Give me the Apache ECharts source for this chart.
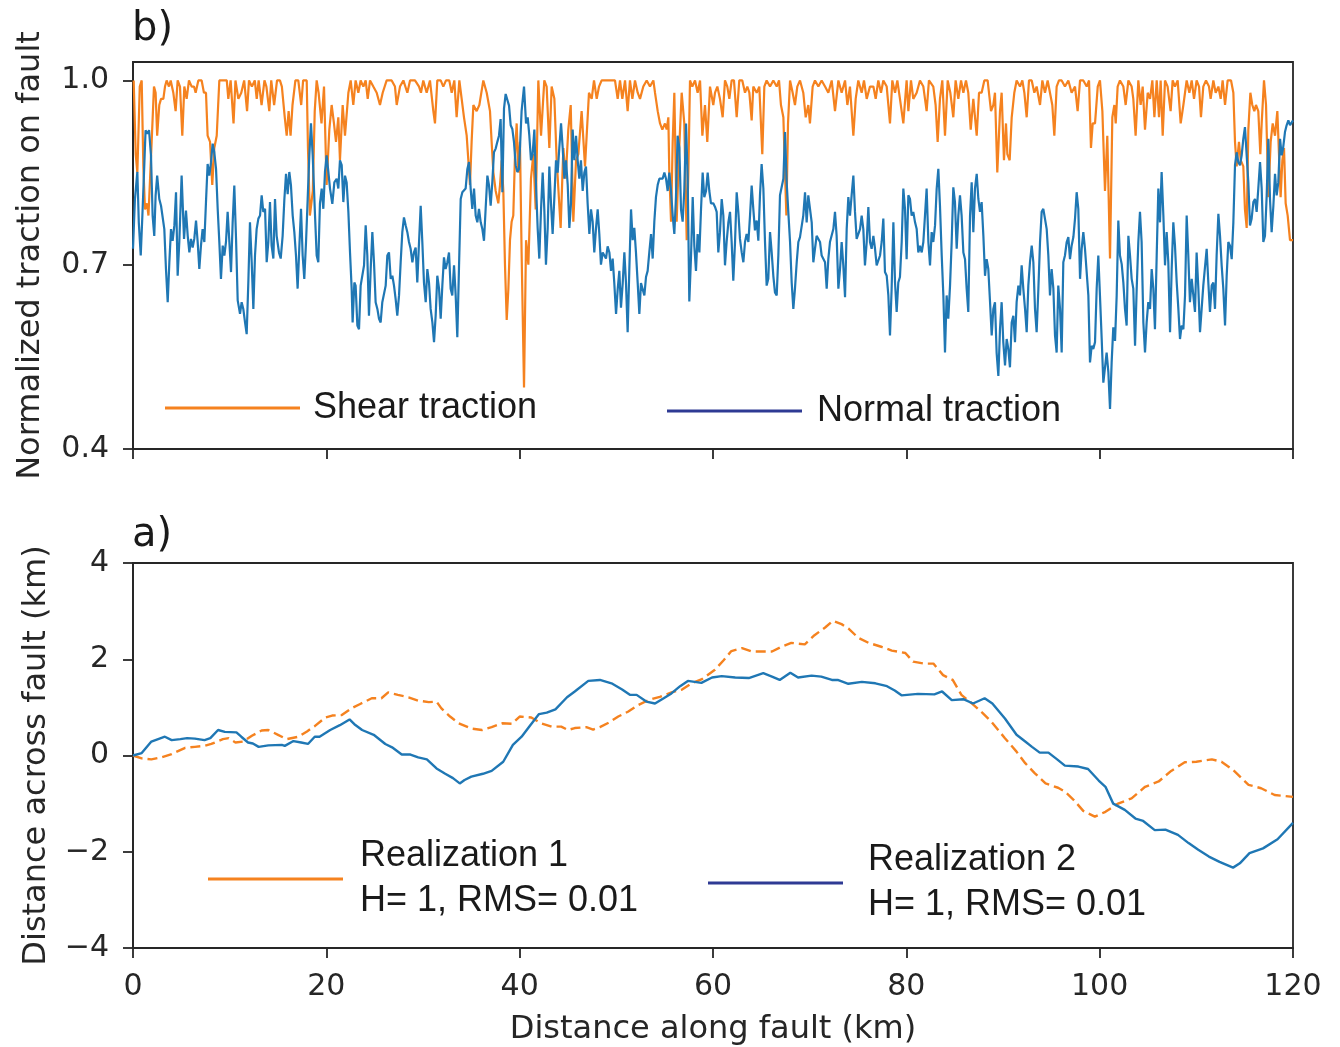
<!DOCTYPE html>
<html>
<head>
<meta charset="utf-8">
<script src="https://cdn.jsdelivr.net/npm/echarts@6/dist/echarts.min.js"></script>
<style>
html,body{margin:0;padding:0;background:#fff;}
#chart{width:1340px;height:1047px;}
</style>
</head>
<body>
<div id="chart"></div>
<script>
// ---------- data (km, value) ----------
const xTicks = [0, 20, 40, 60, 80, 100, 120];
const topYTicks = [0.4, 0.7, 1.0];
const bottomYTicks = [-4, -2, 0, 2, 4];

const shearTraction = [
[0.07,1.0],[0.28,0.88],[0.45,0.85],[0.7,0.99],[0.9,1.0],[1.07,0.86],[1.24,0.79],[1.45,0.80],[1.6,0.78],[1.76,0.78],[1.93,0.90],[2.17,0.99],[2.34,0.98],[2.5,0.91],[2.72,0.96],[2.9,0.97],[3.14,0.97],[3.31,0.99],[3.48,1.0],[3.72,0.99],[3.9,1.0],[4.17,0.98],[4.41,0.95],[4.62,1.0],[4.86,0.99],[5.1,0.91],[5.31,0.99],[5.55,0.97],[5.79,1.0],[6.07,0.99],[6.31,0.99],[6.48,0.98],[6.76,1.0],[7.1,1.0],[7.34,0.98],[7.55,0.98],[7.72,0.91],[7.97,0.90],[8.2,0.83],[8.41,0.89],[8.66,0.91],[8.93,1.0],[9.34,1.0],[9.7,1.0],[9.86,0.97],[10.1,1.0],[10.4,0.93],[10.6,1.0],[10.9,0.97],[11.2,0.98],[11.5,1.0],[11.8,0.95],[12.0,1.0],[12.3,0.99],[12.6,1.0],[12.8,0.97],[13.0,1.0],[13.3,0.96],[13.6,1.0],[13.8,0.99],[14.1,0.95],[14.3,1.0],[14.6,0.96],[14.9,1.0],[15.2,1.0],[15.4,0.99],[15.7,0.94],[15.9,0.91],[16.1,0.95],[16.3,0.91],[16.5,0.96],[16.8,1.0],[17.1,1.0],[17.4,0.96],[17.6,1.0],[17.97,1.0],[18.1,0.89],[18.3,0.78],[18.6,0.82],[18.8,0.95],[19.0,1.0],[19.2,0.98],[19.5,0.93],[19.76,0.99],
[20.03,0.83],[20.31,0.92],[20.55,0.96],[20.79,0.93],[21.0,0.90],[21.24,0.94],[21.41,0.87],[21.69,0.96],[21.93,0.91],[22.28,0.98],[22.52,1.0],[22.79,0.96],[23.03,1.0],[23.31,0.98],[23.55,1.0],[23.83,0.99],[24.07,1.0],[24.28,0.97],[24.52,1.0],[24.86,0.99],[25.21,0.98],[25.55,0.96],[25.83,0.98],[26.24,1.0],[26.76,1.0],[27.1,0.99],[27.28,0.96],[27.62,0.99],[27.97,1.0],[28.38,0.98],[28.66,1.0],[29.17,1.0],[29.59,0.99],[29.79,0.98],[30.03,1.0],[30.38,0.98],[30.72,1.0],[31.07,0.95],[31.24,0.93],[31.48,1.0],[31.83,1.0],[32.1,0.99],[32.38,1.0],[32.72,1.0],[32.97,0.98],[33.24,1.0],[33.48,0.94],[33.76,1.0],[34.0,0.97],[34.24,0.94],[34.52,0.91],[34.69,0.87],[34.86,0.83],[35.03,0.90],[35.21,0.96],[35.55,0.95],[35.83,0.96],[36.24,1.0],[36.59,0.98],[36.93,0.95],[37.1,0.90],[37.28,0.85],[37.52,0.82],[37.79,0.80],[37.97,0.83],[38.14,0.87],[38.31,0.82],[38.48,0.70],[38.66,0.61],[38.83,0.66],[39.0,0.74],[39.17,0.77],[39.34,0.78],[39.52,0.88],
[39.69,0.93],[39.86,0.85],[40.03,0.90],[40.2,0.72],[40.45,0.50],[40.66,0.74],[40.9,0.70],[41.17,0.84],[41.41,0.88],[41.66,0.79],[41.93,1.0],[42.21,0.91],[42.55,1.0],[42.79,0.99],[43.07,0.89],[43.31,0.99],[43.59,0.97],[43.83,0.87],[44.24,0.76],[44.52,0.89],[44.76,0.84],[45.03,0.92],[45.28,0.96],[45.55,0.77],[45.83,0.87],[46.07,0.88],[46.41,0.95],[46.76,0.86],[47.17,0.98],[47.45,0.97],[47.69,1.0],[47.97,0.97],[48.21,0.99],[48.48,1.0],[49.0,1.0],[49.5,1.0],[49.86,1.0],[50.14,0.97],[50.38,1.0],[50.62,0.97],[50.9,1.0],[51.17,0.95],[51.41,1.0],[51.66,0.97],[51.93,1.0],[52.21,0.98],[52.45,0.97],[52.79,0.99],[53.14,1.0],[53.48,0.99],[53.83,1.0],[54.0,0.98],[54.28,0.95],[54.52,0.93],[54.76,0.92],[55.03,0.93],[55.21,0.92],[55.38,0.94],[55.48,0.85],[55.66,0.77],[55.83,0.90],[56.0,0.98],[56.24,0.77],[56.48,0.88],[56.76,0.98],[57.03,0.93],[57.28,0.74],[57.45,0.85],[57.62,1.0],[57.86,0.99],[58.14,1.0],[58.41,0.98],[58.66,1.0],[58.9,0.91],[59.17,0.96],[59.41,0.90],[59.69,0.99],
[60.03,0.96],[60.21,0.98],[60.45,0.99],[60.72,0.97],[61.0,0.94],[61.24,1.0],[61.48,0.99],[61.69,0.97],[61.93,1.0],[62.17,1.0],[62.45,0.94],[62.72,1.0],[63.03,1.0],[63.31,0.98],[63.55,0.99],[63.76,0.98],[64.0,0.935],[64.17,0.99],[64.52,0.98],[64.79,0.99],[65.1,0.88],[65.31,0.99],[65.55,1.0],[65.9,0.99],[66.24,1.0],[66.59,0.99],[66.83,1.0],[67.03,0.96],[67.28,0.94],[67.45,0.85],[67.59,0.78],[67.76,0.93],[67.97,1.0],[68.24,0.98],[68.48,0.96],[68.72,0.99],[69.0,1.0],[69.34,0.98],[69.59,0.94],[69.86,0.96],[70.03,0.93],[70.31,0.99],[70.55,1.0],[70.9,0.99],[71.24,1.0],[71.59,0.99],[71.93,0.98],[72.28,1.0],[72.62,0.95],[72.97,1.0],[73.31,0.98],[73.66,1.0],[73.9,0.96],[74.17,0.99],[74.52,0.91],[74.76,0.97],[75.03,1.0],[75.38,0.98],[75.62,1.0],[75.9,0.97],[76.24,0.99],[76.59,0.99],[76.83,0.97],[77.1,1.0],[77.38,0.98],[77.62,1.0],[77.97,0.99],[78.31,0.93],[78.55,1.0],[78.83,0.98],[79.07,1.0],[79.34,0.97],[79.69,0.93],
[80.03,1.0],[80.21,0.95],[80.48,1.0],[80.72,0.97],[81.07,0.98],[81.41,1.0],[81.76,0.99],[82.1,0.95],[82.34,1.0],[82.79,0.99],[83.03,0.96],[83.24,0.90],[83.48,0.97],[83.72,1.0],[84.0,0.91],[84.28,1.0],[84.55,0.98],[84.86,0.94],[85.1,1.0],[85.38,0.97],[85.66,1.0],[85.9,0.98],[86.17,1.0],[86.41,0.98],[86.66,0.92],[86.93,0.97],[87.1,0.97],[87.28,0.91],[87.52,0.98],[87.79,0.98],[88.07,1.0],[88.41,1.0],[88.76,0.95],[89.0,0.96],[89.17,0.98],[89.41,0.85],[89.69,0.95],[89.86,0.98],[90.1,0.87],[90.31,0.93],[90.45,0.88],[90.69,0.87],[90.9,0.94],[91.17,0.98],[91.41,1.0],[91.76,0.99],[92.0,1.0],[92.21,0.98],[92.45,0.94],[92.69,1.0],[92.97,1.0],[93.24,0.98],[93.48,0.99],[93.83,0.96],[94.07,1.0],[94.34,0.98],[94.62,1.0],[94.86,0.98],[95.1,0.96],[95.31,0.91],[95.55,0.99],[95.79,1.0],[96.07,1.0],[96.41,0.99],[96.76,1.0],[97.1,0.98],[97.45,0.99],[97.72,0.95],[97.97,1.0],[98.31,1.0],[98.66,0.99],[98.9,1.0],[99.1,0.89],[99.28,0.93],[99.52,0.93],
[99.8,0.99],[100.03,1.0],[100.28,0.95],[100.55,0.82],[100.79,0.91],[101.07,0.71],[101.31,0.94],[101.52,0.96],[101.66,0.93],[101.86,0.99],[102.1,1.0],[102.45,0.99],[102.69,0.96],[102.97,1.0],[103.31,0.99],[103.48,0.97],[103.72,0.91],[104.0,1.0],[104.24,0.96],[104.45,0.99],[104.69,0.92],[104.97,0.98],[105.21,0.97],[105.45,1.0],[105.66,0.94],[105.9,1.0],[106.14,0.94],[106.31,1.0],[106.52,0.91],[106.76,1.0],[107.03,0.99],[107.34,0.95],[107.55,1.0],[107.79,0.99],[108.07,1.0],[108.38,0.93],[108.66,0.96],[109.0,1.0],[109.28,0.98],[109.52,1.0],[109.76,0.97],[110.03,1.0],[110.28,0.99],[110.48,0.94],[110.72,0.99],[111.0,1.0],[111.31,0.99],[111.48,0.97],[111.76,1.0],[112.0,0.98],[112.28,0.99],[112.52,0.97],[112.72,1.0],[112.97,0.96],[113.24,1.0],[113.59,1.0],[113.83,0.98],[114.0,0.90],[114.17,0.86],[114.41,0.90],[114.59,0.87],[114.86,0.86],[115.03,0.79],[115.21,0.76],[115.38,0.92],[115.59,0.98],[115.79,0.96],[116.0,0.95],[116.17,0.96],[116.41,0.95],[116.62,0.88],[116.76,0.93],[117.0,1.0],[117.21,0.96],[117.45,0.81],[117.69,0.90],[117.9,0.93],[118.14,0.91],[118.38,0.95],[118.55,0.88],[118.72,0.81],[118.9,0.87],[119.07,0.89],[119.24,0.80],[119.45,0.78],[119.69,0.74],[120.0,0.74]
];

const normalTraction = [
[0,0.726],[0.2,0.807],[0.45,0.851],[0.6,0.769],[0.8,0.715],[0.97,0.78],[1.14,0.85],[1.3,0.919],[1.48,0.913],[1.66,0.919],[1.86,0.878],[2.03,0.78],[2.2,0.747],[2.34,0.813],[2.5,0.845],[2.72,0.807],[2.9,0.796],[3.07,0.796],[3.24,0.758],[3.41,0.693],[3.59,0.639],[3.76,0.704],[3.93,0.758],[4.1,0.739],[4.28,0.764],[4.45,0.818],[4.62,0.682],[4.79,0.737],[5.03,0.845],[5.28,0.742],[5.48,0.788],[5.66,0.747],[5.83,0.72],[6.0,0.742],[6.17,0.728],[6.34,0.742],[6.52,0.772],[6.69,0.737],[6.86,0.693],[7.03,0.731],[7.2,0.758],[7.38,0.737],[7.55,0.802],[7.72,0.864],[7.9,0.845],[8.07,0.867],[8.24,0.897],[8.41,0.883],[8.59,0.856],[8.76,0.791],[8.93,0.737],[9.1,0.677],[9.28,0.731],[9.45,0.715],[9.62,0.737],[9.79,0.786],[9.97,0.737],[10.14,0.688],[10.31,0.769],[10.48,0.829],[10.66,0.742],[10.83,0.642],[11.07,0.62],[11.24,0.639],[11.41,0.628],[11.59,0.606],[11.76,0.587],[11.93,0.671],[12.1,0.769],[12.28,0.704],[12.45,0.628],[12.62,0.715],[12.79,0.758],[12.97,0.775],[13.14,0.78],[13.31,0.813],[13.48,0.786],[13.66,0.791],[13.83,0.704],[14.0,0.737],[14.17,0.802],[14.34,0.731],[14.52,0.71],[14.69,0.807],[14.86,0.747],[15.1,0.72],[15.28,0.71],[15.48,0.747],[15.66,0.807],[15.83,0.848],[16.0,0.815],[16.17,0.851],[16.34,0.829],[16.52,0.78],[16.69,0.753],[16.86,0.715],[17.03,0.661],[17.2,0.726],[17.38,0.791],[17.55,0.715],[17.72,0.677],[17.9,0.737],[18.07,0.807],[18.24,0.878],[18.41,0.93],[18.59,0.878],[18.83,0.78],[19.0,0.715],[19.17,0.704],[19.34,0.80],
[19.52,0.824],[19.69,0.791],[19.86,0.851],[20.03,0.878],[20.21,0.851],[20.38,0.824],[20.62,0.799],[20.83,0.834],[21.07,0.840],[21.24,0.824],[21.41,0.870],[21.59,0.862],[21.76,0.802],[21.93,0.845],[22.1,0.834],[22.28,0.786],[22.45,0.720],[22.62,0.661],[22.72,0.606],[22.9,0.671],[23.03,0.666],[23.21,0.601],[23.38,0.595],[23.55,0.666],[23.72,0.669],[23.9,0.699],[24.07,0.764],[24.24,0.715],[24.41,0.617],[24.59,0.693],[24.76,0.753],[24.93,0.704],[25.1,0.639],[25.28,0.628],[25.45,0.612],[25.62,0.606],[25.79,0.639],[25.97,0.639],[26.14,0.666],[26.31,0.715],[26.48,0.720],[26.66,0.677],[26.83,0.682],[27.0,0.666],[27.17,0.644],[27.34,0.617],[27.52,0.650],[27.69,0.704],[27.86,0.753],[28.03,0.777],[28.21,0.764],[28.38,0.753],[28.55,0.737],[28.72,0.726],[28.9,0.704],[29.07,0.720],[29.24,0.728],[29.41,0.671],[29.59,0.737],[29.76,0.796],[29.93,0.737],[30.1,0.671],[30.28,0.639],[30.45,0.693],[30.62,0.671],[30.79,0.628],[30.97,0.606],[31.14,0.574],[31.31,0.617],[31.48,0.682],[31.66,0.661],[31.83,0.612],[32.0,0.666],[32.17,0.712],[32.34,0.693],[32.52,0.704],[32.69,0.720],[32.86,0.661],[33.03,0.650],[33.21,0.699],[33.38,0.650],[33.55,0.582],[33.72,0.693],[33.9,0.807],[34.07,0.818],[34.24,0.818],[34.41,0.824],[34.59,0.856],[34.76,0.867],[34.93,0.824],[35.1,0.791],[35.28,0.824],[35.45,0.780],[35.62,0.769],[35.79,0.791],[35.97,0.769],[36.14,0.758],[36.31,0.739],[36.48,0.791],[36.66,0.845],[36.83,0.829],[37.0,0.796],[37.17,0.834],[37.34,0.883],[37.52,0.889],[37.69,0.900],[37.86,0.910],[38.03,0.937],[38.21,0.818],[38.38,0.954],[38.55,0.978],[38.72,0.976],[38.9,0.959],[39.07,0.927],[39.24,0.921],[39.41,0.900],[39.59,0.862],[39.76,0.851],[39.93,0.856],
[40.03,0.89],[40.2,0.95],[40.45,0.99],[40.66,0.93],[40.83,0.94],[41.0,0.91],[41.17,0.87],[41.34,0.88],[41.52,0.92],[41.69,0.83],[41.86,0.76],[42.03,0.71],[42.21,0.79],[42.38,0.85],[42.55,0.79],[42.72,0.70],[42.9,0.76],[43.07,0.86],[43.24,0.80],[43.41,0.75],[43.59,0.81],[43.76,0.87],[43.93,0.85],[44.1,0.89],[44.28,0.93],[44.45,0.89],[44.62,0.84],[44.79,0.87],[44.97,0.83],[45.14,0.76],[45.31,0.80],[45.48,0.92],[45.66,0.87],[45.83,0.91],[46.0,0.87],[46.17,0.84],[46.34,0.87],[46.52,0.82],[46.69,0.85],[46.86,0.86],[47.03,0.80],[47.21,0.75],[47.38,0.79],[47.55,0.77],[47.72,0.72],[47.9,0.76],[48.07,0.79],[48.24,0.75],[48.41,0.70],[48.59,0.72],[48.76,0.72],[48.93,0.71],[49.1,0.73],[49.28,0.72],[49.45,0.69],[49.62,0.71],[49.79,0.67],[49.97,0.62],[50.14,0.66],[50.31,0.69],[50.48,0.63],[50.66,0.67],[50.83,0.72],[51.0,0.67],[51.17,0.59],[51.34,0.69],[51.52,0.79],[51.69,0.74],[51.86,0.76],[52.03,0.72],[52.21,0.67],[52.38,0.62],[52.55,0.67],[52.72,0.67],[52.9,0.65],[53.07,0.68],[53.24,0.69],[53.41,0.72],[53.59,0.75],[53.76,0.71],[53.93,0.77],[54.1,0.81],[54.28,0.83],[54.45,0.84],[54.62,0.84],[54.79,0.84],[54.97,0.85],[55.14,0.84],[55.31,0.82],[55.48,0.85],[55.66,0.82],[55.83,0.78],[56.0,0.75],[56.17,0.81],[56.34,0.91],[56.52,0.89],[56.69,0.79],[56.86,0.77],[57.03,0.82],[57.21,0.93],[57.38,0.84],[57.55,0.64],[57.72,0.71],[57.9,0.81],[58.07,0.73],[58.24,0.69],[58.41,0.75],[58.59,0.72],[58.76,0.79],[58.93,0.85],[59.1,0.81],[59.28,0.82],[59.45,0.85],[59.62,0.82],[59.79,0.80],[60.03,0.80],
[60.21,0.794],[60.38,0.786],[60.55,0.720],[60.72,0.753],[60.9,0.807],[61.07,0.780],[61.24,0.699],[61.41,0.737],[61.59,0.769],[61.76,0.786],[61.93,0.737],[62.1,0.674],[62.28,0.737],[62.45,0.818],[62.62,0.786],[62.79,0.742],[62.97,0.720],[63.14,0.704],[63.31,0.737],[63.48,0.750],[63.66,0.737],[63.83,0.780],[64.0,0.829],[64.17,0.791],[64.34,0.756],[64.52,0.772],[64.69,0.739],[64.86,0.813],[65.03,0.864],[65.21,0.824],[65.38,0.737],[65.55,0.666],[65.72,0.677],[65.9,0.753],[66.07,0.720],[66.24,0.682],[66.41,0.655],[66.59,0.650],[66.76,0.715],[66.93,0.813],[67.1,0.815],[67.28,0.840],[67.45,0.916],[67.62,0.834],[67.79,0.786],[67.97,0.737],[68.14,0.671],[68.31,0.628],[68.48,0.661],[68.66,0.704],[68.83,0.737],[69.0,0.745],[69.17,0.742],[69.34,0.780],[69.52,0.818],[69.69,0.769],[69.86,0.813],[70.03,0.813],[70.21,0.769],[70.38,0.704],[70.55,0.726],[70.72,0.747],[70.9,0.750],[71.07,0.737],[71.24,0.715],[71.41,0.718],[71.59,0.704],[71.76,0.661],[71.93,0.709],[72.1,0.737],[72.28,0.739],[72.45,0.758],[72.62,0.786],[72.79,0.747],[72.97,0.661],[73.14,0.693],[73.31,0.737],[73.48,0.699],[73.66,0.647],[73.83,0.758],[74.0,0.810],[74.17,0.780],[74.34,0.813],[74.52,0.845],[74.69,0.786],[74.86,0.742],[75.03,0.742],[75.21,0.758],[75.38,0.780],[75.55,0.758],[75.72,0.699],[75.9,0.737],[76.07,0.794],[76.24,0.737],[76.41,0.726],[76.59,0.747],[76.76,0.726],[76.93,0.699],[77.1,0.699],[77.28,0.715],[77.45,0.737],[77.62,0.775],[77.79,0.688],[77.97,0.682],[78.14,0.650],[78.31,0.585],[78.48,0.661],[78.66,0.769],[78.83,0.671],[79.0,0.623],[79.17,0.671],[79.34,0.680],[79.52,0.737],[79.69,0.824],[79.86,0.791],
[80.03,0.709],[80.21,0.813],[80.38,0.807],[80.55,0.780],[80.72,0.786],[80.9,0.769],[81.07,0.758],[81.24,0.720],[81.41,0.731],[81.59,0.720],[81.76,0.737],[81.93,0.780],[82.1,0.824],[82.28,0.737],[82.45,0.699],[82.62,0.753],[82.79,0.737],[82.97,0.764],[83.14,0.824],[83.31,0.856],[83.48,0.796],[83.66,0.715],[83.83,0.650],[84.0,0.557],[84.17,0.650],[84.34,0.612],[84.52,0.666],[84.69,0.737],[84.86,0.826],[85.03,0.802],[85.21,0.726],[85.38,0.780],[85.55,0.813],[85.72,0.780],[85.9,0.720],[86.07,0.709],[86.24,0.661],[86.41,0.623],[86.59,0.780],[86.76,0.834],[86.93,0.753],[87.1,0.824],[87.28,0.848],[87.45,0.807],[87.62,0.786],[87.79,0.802],[87.97,0.747],[88.14,0.682],[88.31,0.709],[88.48,0.693],[88.66,0.639],[88.83,0.585],[89.0,0.628],[89.17,0.639],[89.34,0.557],[89.52,0.519],[89.69,0.595],[89.86,0.639],[90.03,0.574],[90.21,0.536],[90.38,0.579],[90.55,0.563],[90.72,0.533],[90.9,0.606],[91.07,0.617],[91.24,0.574],[91.41,0.639],[91.59,0.666],[91.76,0.650],[91.93,0.699],[92.1,0.661],[92.28,0.628],[92.45,0.590],[92.62,0.666],[92.79,0.704],[92.97,0.731],[93.14,0.704],[93.31,0.628],[93.48,0.590],[93.66,0.661],[93.83,0.737],[94.0,0.786],[94.17,0.791],[94.34,0.775],[94.52,0.758],[94.69,0.715],[94.86,0.650],[95.03,0.693],[95.21,0.661],[95.38,0.585],[95.55,0.557],[95.72,0.666],[95.9,0.628],[96.07,0.557],[96.24,0.704],[96.41,0.715],[96.59,0.737],[96.76,0.745],[96.93,0.709],[97.1,0.731],[97.28,0.745],[97.45,0.775],[97.62,0.818],[97.79,0.791],[97.97,0.677],[98.14,0.726],[98.31,0.753],[98.48,0.726],[98.66,0.728],[98.83,0.650],[99.0,0.541],[99.17,0.568],[99.34,0.563],[99.52,0.574],[99.69,0.661],[99.86,0.715],[100.03,0.650],[100.21,0.579],[100.38,0.508],
[100.55,0.508],[100.72,0.557],[100.9,0.525],[101.07,0.465],[101.24,0.541],[101.41,0.598],[101.59,0.576],[101.76,0.650],[101.93,0.772],[102.1,0.715],[102.28,0.701],[102.45,0.671],[102.62,0.628],[102.79,0.601],[102.97,0.747],[103.14,0.715],[103.31,0.677],[103.48,0.661],[103.66,0.568],[103.83,0.661],[104.0,0.737],[104.17,0.786],[104.34,0.737],[104.52,0.606],[104.69,0.557],[104.86,0.606],[105.03,0.639],[105.21,0.628],[105.38,0.693],[105.55,0.661],[105.72,0.595],[105.9,0.715],[106.07,0.824],[106.24,0.769],[106.41,0.851],[106.59,0.780],[106.76,0.699],[106.93,0.753],[107.1,0.704],[107.28,0.590],[107.45,0.693],[107.62,0.769],[107.79,0.731],[107.97,0.671],[108.14,0.628],[108.31,0.579],[108.48,0.601],[108.66,0.595],[108.83,0.650],[109.0,0.780],[109.17,0.715],[109.34,0.639],[109.52,0.677],[109.69,0.650],[109.86,0.623],[110.03,0.720],[110.21,0.661],[110.38,0.590],[110.55,0.628],[110.72,0.666],[110.9,0.666],[111.07,0.726],[111.24,0.671],[111.41,0.623],[111.59,0.666],[111.76,0.671],[111.93,0.628],[112.1,0.715],[112.28,0.783],[112.45,0.747],[112.62,0.699],[112.79,0.661],[112.97,0.601],[113.14,0.682],[113.31,0.737],[113.48,0.731],[113.66,0.709],[113.83,0.769],[114.0,0.862],[114.17,0.883],[114.34,0.867],[114.52,0.862],[114.69,0.878],[114.86,0.905],[115.03,0.924],[115.21,0.927],[115.38,0.834],[115.55,0.764],[115.72,0.775],[115.9,0.802],[116.07,0.807],[116.24,0.786],[116.41,0.824],[116.59,0.867],[116.76,0.824],[116.93,0.737],[117.1,0.747],[117.28,0.813],[117.45,0.905],[117.62,0.807],[117.79,0.753],[117.97,0.796],[118.14,0.848],[118.31,0.813],[118.48,0.834],[118.66,0.905],[118.83,0.878],[118.97,0.889],[119.17,0.916],[119.34,0.927],[119.52,0.935],[119.69,0.927],[120.0,0.935]
];

const realization1 = [
[0,0],[0.9,-0.06],[1.9,-0.08],[2.9,-0.04],[4.0,0.03],[5.4,0.16],[6.4,0.18],[7.4,0.20],[8.1,0.24],[9.3,0.34],[9.9,0.36],[10.6,0.27],[11.4,0.29],[12.3,0.41],[13.3,0.52],[14.0,0.53],[15.0,0.43],[15.9,0.34],[17.1,0.39],[18.0,0.50],[18.8,0.61],[19.9,0.79],[20.6,0.83],[21.6,0.84],[22.6,0.98],[23.5,1.07],[24.7,1.19],[25.7,1.19],[26.4,1.31],[27.4,1.26],[28.5,1.21],[29.5,1.14],[30.6,1.11],[31.4,1.12],[31.9,0.98],[32.8,0.81],[33.7,0.67],[35.0,0.56],[36.1,0.53],[37.1,0.59],[38.2,0.67],[39.2,0.66],[40.0,0.81],[41.2,0.79],[42.2,0.67],[43.3,0.60],[44.3,0.60],[45.0,0.53],[45.7,0.57],[46.9,0.59],[47.6,0.54],[48.3,0.59],[49.2,0.68],[50.2,0.81],[51.2,0.91],[52.3,1.05],[53.3,1.15],[54.5,1.22],[55.7,1.31],[56.8,1.37],[57.8,1.50],[58.8,1.58],[60.2,1.78],[61.1,1.98],[61.9,2.17],[63.0,2.23],[64.0,2.16],[65.0,2.16],[66.1,2.16],[67.1,2.26],[68.1,2.34],[69.5,2.31],[70.5,2.50],[71.6,2.66],[72.4,2.80],[73.3,2.73],[74.0,2.64],[75.0,2.45],[76.1,2.34],[77.4,2.26],[78.5,2.18],[79.9,2.13],[80.7,1.95],[81.8,1.91],[82.8,1.91],[83.8,1.67],[84.8,1.57],[85.7,1.26],[86.8,1.08],[87.9,0.88],[88.8,0.70],[90.2,0.36],[91.4,0.08],[92.3,-0.16],[93.3,-0.37],[94.4,-0.58],[95.7,-0.67],[96.4,-0.75],[97.3,-0.92],[98.3,-1.15],[99.5,-1.27],[100.6,-1.17],[101.9,-1.0],[103.3,-0.89],[104.7,-0.65],[106.1,-0.54],[107.4,-0.32],[108.8,-0.14],[110.0,-0.13],[111.6,-0.08],[112.6,-0.13],[113.8,-0.30],[115.4,-0.61],[116.7,-0.68],[118.1,-0.82],[120,-0.86]
];

const realization2 = [
[0,0],[0.9,0.05],[1.9,0.29],[2.6,0.34],[3.3,0.39],[4.0,0.32],[4.9,0.34],[5.6,0.36],[6.4,0.35],[7.4,0.32],[8.0,0.36],[8.8,0.53],[9.5,0.49],[10.7,0.48],[11.2,0.39],[11.9,0.27],[12.4,0.25],[13.0,0.18],[14.0,0.21],[15.4,0.22],[15.7,0.20],[16.6,0.30],[17.4,0.27],[18.1,0.24],[18.8,0.39],[19.3,0.39],[20.4,0.53],[21.4,0.63],[22.4,0.75],[22.9,0.65],[23.7,0.53],[24.9,0.43],[26.1,0.24],[26.8,0.17],[27.8,0.02],[28.7,0.02],[29.5,-0.04],[30.4,-0.08],[31.4,-0.27],[32.3,-0.38],[33.1,-0.47],[33.8,-0.58],[34.3,-0.51],[35.0,-0.44],[36.2,-0.38],[37.1,-0.32],[38.3,-0.13],[39.3,0.22],[40.2,0.39],[41.1,0.63],[42.0,0.86],[42.8,0.89],[43.7,0.96],[44.9,1.21],[45.7,1.33],[47.1,1.55],[48.3,1.57],[49.5,1.50],[50.6,1.37],[51.4,1.26],[52.1,1.26],[53.1,1.12],[54.0,1.08],[54.9,1.19],[55.7,1.29],[56.6,1.44],[57.4,1.55],[58.1,1.53],[58.8,1.51],[59.9,1.62],[60.9,1.65],[62.3,1.62],[63.7,1.61],[65.2,1.71],[66.1,1.64],[66.9,1.57],[68.0,1.72],[68.8,1.62],[70.2,1.66],[71.2,1.64],[72.3,1.57],[72.9,1.57],[74.0,1.49],[75.4,1.53],[76.8,1.50],[78.0,1.44],[78.8,1.35],[79.5,1.25],[81.2,1.28],[82.9,1.27],[83.7,1.33],[84.7,1.15],[85.9,1.17],[86.9,1.08],[88.1,1.19],[88.9,1.08],[90.2,0.77],[91.4,0.43],[92.3,0.29],[93.0,0.18],[93.8,0.06],[94.7,0.06],[95.6,-0.08],[96.4,-0.21],[97.8,-0.23],[98.8,-0.28],[99.9,-0.52],[100.6,-0.65],[101.4,-1.0],[102.6,-1.13],[103.7,-1.31],[104.5,-1.36],[105.7,-1.55],[106.8,-1.54],[108.1,-1.65],[109.2,-1.82],[110.2,-1.96],[111.3,-2.1],[112.4,-2.21],[113.8,-2.33],[114.5,-2.24],[115.5,-2.03],[116.9,-1.93],[118.4,-1.74],[120,-1.40]
];

// ---------- style ----------
const ORANGE = '#f5821f';
const BLUE = '#1f77b4';
const NAVY = '#2e3a94';
const INK = '#262626';
const TICK_FONT = 'DejaVu Sans';
const LEG_FONT = 'Liberation Sans';

function minusFmt(v) { return String(v).replace('-', '\u2212'); }

const axisLineStyle = { show: true, onZero: false, lineStyle: { color: INK, width: 1.8 } };
const tickStyle = { show: true, length: 10, inside: false, lineStyle: { color: INK, width: 1.8 } };
const labelStyle = { color: INK, fontSize: 30, fontFamily: TICK_FONT };

const chart = echarts.init(document.getElementById('chart'), null, { renderer: 'canvas' });

chart.setOption({
  animation: false,
  backgroundColor: '#ffffff',
  title: [
    { text: 'b)', left: 132, top: 10, padding: 0, textStyle: { fontSize: 40, fontWeight: 'normal', color: '#1a1a1a', fontFamily: TICK_FONT } },
    { text: 'a)', left: 132, top: 516, padding: 0, textStyle: { fontSize: 40, fontWeight: 'normal', color: '#1a1a1a', fontFamily: TICK_FONT } }
  ],
  grid: [
    { left: 133, right: 47, top: 62, height: 387, show: true, borderColor: INK, borderWidth: 1.8, backgroundColor: 'transparent' },
    { left: 133, right: 47, top: 563, height: 385, show: true, borderColor: INK, borderWidth: 1.8, backgroundColor: 'transparent' }
  ],
  xAxis: [
    { type: 'value', gridIndex: 0, min: 0, max: 120, interval: 20,
      axisLine: axisLineStyle, axisTick: Object.assign({}, tickStyle, { customValues: xTicks }),
      axisLabel: { show: false }, splitLine: { show: false } },
    { type: 'value', gridIndex: 1, min: 0, max: 120, interval: 20,
      axisLine: axisLineStyle, axisTick: Object.assign({}, tickStyle, { customValues: xTicks }),
      axisLabel: Object.assign({}, labelStyle, { margin: 24, customValues: xTicks }),
      splitLine: { show: false },
      name: 'Distance along fault (km)', nameLocation: 'middle', nameGap: 66,
      nameTextStyle: { color: INK, fontSize: 32, fontFamily: TICK_FONT } }
  ],
  yAxis: [
    { type: 'value', gridIndex: 0, min: 0.4, max: 1.03, interval: 0.3,
      axisLine: axisLineStyle, axisTick: Object.assign({}, tickStyle, { customValues: topYTicks }),
      axisLabel: Object.assign({}, labelStyle, { margin: 24, customValues: topYTicks, formatter: v => v.toFixed(1) }),
      splitLine: { show: false },
      name: 'Normalized traction on fault', nameLocation: 'middle', nameGap: 86,
      nameTextStyle: { color: INK, fontSize: 32, fontFamily: TICK_FONT } },
    { type: 'value', gridIndex: 1, min: -4, max: 4, interval: 2,
      axisLine: axisLineStyle, axisTick: Object.assign({}, tickStyle, { customValues: bottomYTicks }),
      axisLabel: Object.assign({}, labelStyle, { margin: 24, customValues: bottomYTicks, formatter: minusFmt }),
      splitLine: { show: false },
      name: 'Distance across fault (km)', nameLocation: 'middle', nameGap: 80,
      nameTextStyle: { color: INK, fontSize: 32, fontFamily: TICK_FONT } }
  ],
  legend: [
    { data: [{ name: 'Shear traction', itemStyle: { color: ORANGE } }], left: 165, top: 388, padding: 0,
      icon: 'rect', itemWidth: 135, itemHeight: 3, selectedMode: false,
      textStyle: { fontSize: 36, fontFamily: LEG_FONT, color: '#1a1a1a', lineHeight: 40, padding: [0, 0, 0, 8] } },
    { data: [{ name: 'Normal traction', itemStyle: { color: NAVY } }], left: 667, top: 391, padding: 0,
      icon: 'rect', itemWidth: 135, itemHeight: 3, selectedMode: false,
      textStyle: { fontSize: 36, fontFamily: LEG_FONT, color: '#1a1a1a', lineHeight: 40, padding: [0, 0, 0, 10] } },
    { data: [{ name: 'Realization 1', itemStyle: { color: ORANGE } }], left: 208, top: 834, padding: 0,
      icon: 'rect', itemWidth: 135, itemHeight: 3, selectedMode: false,
      formatter: n => n + '\nH= 1, RMS= 0.01',
      textStyle: { fontSize: 36, fontFamily: LEG_FONT, color: '#1a1a1a', lineHeight: 45, padding: [0, 0, 0, 12] } },
    { data: [{ name: 'Realization 2', itemStyle: { color: NAVY } }], left: 708, top: 838, padding: 0,
      icon: 'rect', itemWidth: 135, itemHeight: 3, selectedMode: false,
      formatter: n => n + '\nH= 1, RMS= 0.01',
      textStyle: { fontSize: 36, fontFamily: LEG_FONT, color: '#1a1a1a', lineHeight: 45, padding: [0, 0, 0, 20] } }
  ],
  series: [
    { name: 'Shear traction', type: 'line', xAxisIndex: 0, yAxisIndex: 0, data: shearTraction,
      showSymbol: false, symbol: 'none', lineStyle: { color: ORANGE, width: 2.2 }, itemStyle: { color: ORANGE }, z: 2 },
    { name: 'Normal traction', type: 'line', xAxisIndex: 0, yAxisIndex: 0, data: normalTraction,
      showSymbol: false, symbol: 'none', lineStyle: { color: BLUE, width: 2.2 }, itemStyle: { color: BLUE }, z: 3 },
    { name: 'Realization 1', type: 'line', xAxisIndex: 1, yAxisIndex: 1, data: realization1,
      showSymbol: false, symbol: 'none', lineStyle: { color: ORANGE, width: 2.4, type: [10, 5] }, itemStyle: { color: ORANGE }, z: 2 },
    { name: 'Realization 2', type: 'line', xAxisIndex: 1, yAxisIndex: 1, data: realization2,
      showSymbol: false, symbol: 'none', lineStyle: { color: BLUE, width: 2.4 }, itemStyle: { color: BLUE }, z: 3 }
  ]
});
</script>
</body>
</html>
